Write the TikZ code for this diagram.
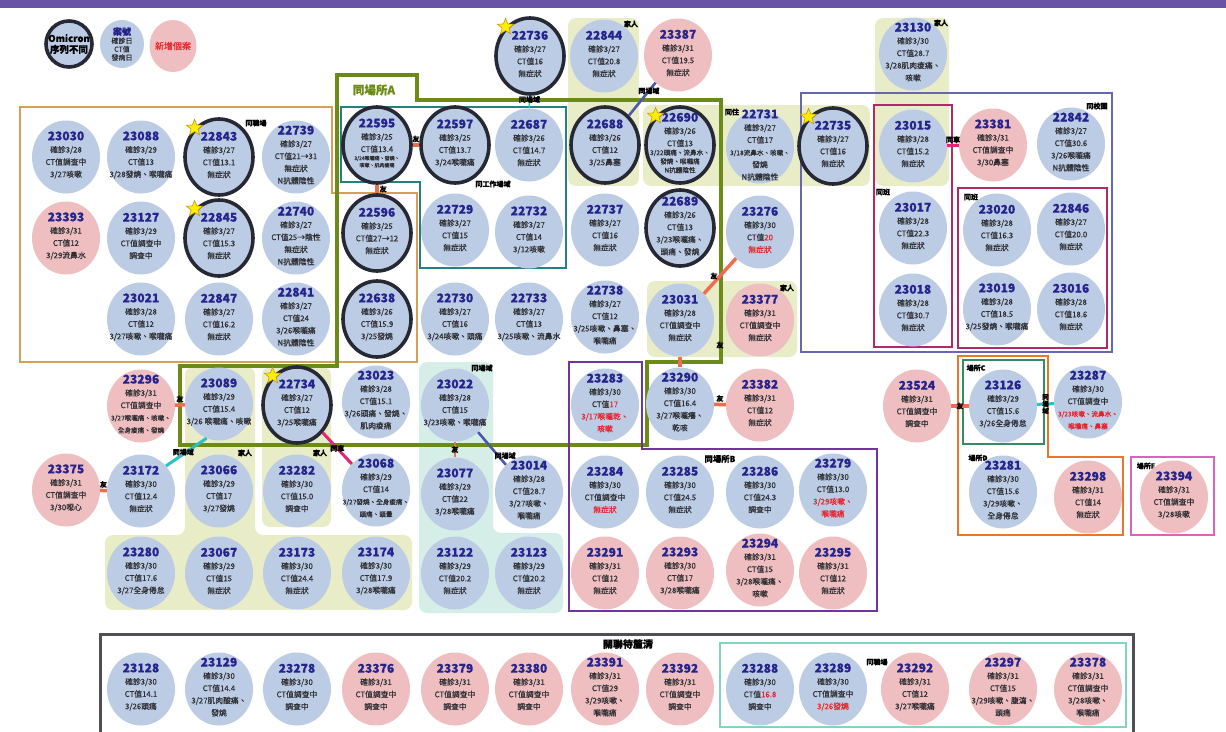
\documentclass[tikz,border=0pt]{standalone}
\usepackage{fontspec}
\setmainfont{Noto Sans CJK TC}[FakeBold=0.4]
\usepackage{xcolor}
\usetikzlibrary{shapes.geometric}

\definecolor{caseblue}{RGB}{187,204,228}
\definecolor{casepink}{RGB}{238,190,192}
\definecolor{casenavy}{RGB}{38,36,140}
\definecolor{casegray}{RGB}{45,45,50}
\definecolor{casered}{RGB}{232,32,40}
\definecolor{ringgray}{RGB}{38,40,52}
\definecolor{famyellow}{RGB}{232,237,200}
\definecolor{sitemint}{RGB}{214,238,232}
\definecolor{boxtan}{RGB}{214,160,88}
\definecolor{boxgreen}{RGB}{108,138,22}
\definecolor{boxteal}{RGB}{38,128,128}
\definecolor{boxpurple}{RGB}{112,52,158}
\definecolor{boxslate}{RGB}{104,102,176}
\definecolor{boxcrimson}{RGB}{176,42,104}
\definecolor{boxorange}{RGB}{232,118,44}
\definecolor{boxgreenC}{RGB}{52,140,96}
\definecolor{boxpinkE}{RGB}{220,100,184}
\definecolor{boxgray}{RGB}{80,80,84}
\definecolor{boxmint}{RGB}{128,212,192}
\definecolor{linkorange}{RGB}{240,108,78}
\definecolor{linkteal}{RGB}{40,192,196}
\definecolor{linkslate}{RGB}{76,88,172}
\definecolor{linkmagenta}{RGB}{222,40,118}
\definecolor{bandpurple}{RGB}{106,82,166}
\definecolor{staryellow}{RGB}{255,238,0}
\definecolor{stargold}{RGB}{196,150,20}

\newcommand{\casenum}{\fontsize{12}{13}\selectfont\bfseries\color{casenavy}}
\newcommand{\redtxt}[1]{\textcolor{casered}{#1}}
\newcommand{\smtxt}[1]{{\fontsize{6.6}{7}\selectfont #1}}
\newcommand{\tinytxt}[1]{{\fontsize{5}{6}\selectfont #1}}
% #1 style, #2 name, #3 position, #4 case number, #5 lines
\newcommand{\casenode}[5]{%
  \node[#1] (#2) at (#3) {};
  \node[casetext] (#2t) at (#2) {{\casenum #4}\\#5};
}

\begin{document}
\begin{tikzpicture}[x=1pt, y=-1pt,
  bluecase/.style={ellipse, fill=caseblue, minimum width=68pt, minimum height=73pt, inner sep=0pt},
  pinkcase/.style={bluecase, fill=casepink},
  ringcase/.style={bluecase, draw=ringgray, line width=3.6pt, minimum height=76pt},
  casetext/.style={align=center, font=\fontsize{7.8}{12.3}\selectfont, text=casegray, inner sep=0pt, yshift=2pt},
  starmark/.style={star, star points=5, star point ratio=2.3, fill=staryellow, draw=stargold, line width=0.6pt, minimum size=17pt, inner sep=0pt},
  rel/.style={font=\fontsize{7}{8}\selectfont\bfseries, text=black, inner sep=1pt},
  friend/.style={draw=linkorange, line width=3.5pt},
  sitelink/.style={draw=linkteal, line width=3pt},
  slatelink/.style={draw=linkslate, line width=2.6pt},
  carlink/.style={draw=linkmagenta, line width=3pt}]
  \useasboundingbox (0,0) rectangle (1226,731);

  % Title band
  \fill[bandpurple] (0,0) rectangle (1226,8);

  % Background groups
  \fill[famyellow, rounded corners=8pt] (568,18) rectangle (639,186);
  \fill[famyellow, rounded corners=8pt] (643,105) rectangle (870,186);
  \fill[famyellow, rounded corners=8pt] (875,18) rectangle (949,186);
  \fill[famyellow, rounded corners=8pt] (647,281) rectangle (797,357);
  \fill[famyellow, rounded corners=8pt] (185,367) -- (255,367) -- (255,535) -- (412,535)
        -- (412,610) -- (105,610) -- (105,535) -- (185,535) -- cycle;
  \fill[famyellow, rounded corners=8pt] (262,367) rectangle (331,527);
  \fill[sitemint, rounded corners=8pt] (419,362) -- (493,362) -- (493,533) -- (563,533)
        -- (563,613) -- (419,613) -- cycle;

  % Group boxes
  \draw[boxtan, line width=2.2pt] (20,107) -- (332,107) -- (332,193) -- (417,193) -- (417,362) -- (20,362) -- cycle;
  \draw[boxgreen, line width=4pt] (337,75) -- (417,75) -- (417,100) -- (721,100) -- (721,362) -- (647,362)
        -- (647,445) -- (180,445) -- (180,366) -- (337,366) -- cycle;
  \draw[boxteal, line width=1.6pt] (341,107) -- (566,107) -- (566,268) -- (420,268) -- (420,182) -- (341,182) -- cycle;
  \draw[boxpurple, line width=2.2pt] (569,362) -- (642,362) -- (642,449) -- (877,449) -- (877,611) -- (569,611) -- cycle;
  \draw[boxslate, line width=1.6pt] (801,93) rectangle (1112,352);
  \draw[boxcrimson, line width=2pt] (874,105) rectangle (952,347);
  \draw[boxcrimson, line width=2pt] (958,188) rectangle (1107,348);
  \draw[boxorange, line width=2pt] (958,356) -- (1048,356) -- (1048,457) -- (1123,457) -- (1123,535) -- (958,535) -- cycle;
  \draw[boxgreenC, line width=1.6pt] (963,360) rectangle (1044,444);
  \draw[boxpinkE, line width=2pt] (1131,457) rectangle (1214,535);
  \draw[boxgray, line width=3pt] (100,634) rectangle (1133,745);
  \draw[boxmint, line width=1.6pt] (720,643) rectangle (1126,727);

  % Legend
  \node[ringcase, minimum width=46pt, minimum height=46pt] (legring) at (69,44) {};
  \node[align=center, font=\fontsize{9.5}{11}\selectfont\bfseries, text=black, inner sep=0pt] (legringt) at (legring) {Omicron\\序列不同};
  \node[bluecase, minimum width=44pt, minimum height=48pt] (legblue) at (122,44) {};
  \node[align=center, font=\fontsize{7}{8.4}\selectfont, text=casegray, inner sep=0pt] (legbluet) at (legblue)
    {{\fontsize{9}{10}\selectfont\bfseries\color{casenavy}案號}\\確診日\\CT值\\發病日};
  \node[pinkcase, minimum width=47pt, minimum height=52pt] (legpink) at (173,46) {};
  \node[font=\fontsize{9}{10}\selectfont, text=casered, inner sep=0pt] (legpinkt) at (legpink) {新增個案};

  % Group labels
  \node[font=\fontsize{11.5}{12}\selectfont\bfseries, text=boxgreen] (lblA) at (374,90) {同場所A};
  \node[rel] (lblwork) at (493,184) {同工作場域};
  \node[rel] (lblcol) at (256,123) {同職場};
  \node[rel] (lblfam1) at (631,24) {家人};
  \node[rel] (lblfam2) at (941,23) {家人};
  \node[rel] (lblfam3) at (787,288) {家人};
  \node[rel] (lblfam4) at (245,453) {家人};
  \node[rel] (lblfam5) at (320,453) {家人};
  \node[rel] (lbllive) at (732,112) {同住};
  \node[rel] (lblsite) at (482,368) {同場域};
  \node[rel] (lblschool) at (1097,106) {同校園};
  \node[rel] (lblclass1) at (883,192) {同班};
  \node[rel] (lblclass2) at (971,197) {同班};
  \node[rel] (lblC) at (976,368) {場所C};
  \node[rel] (lblD) at (978,458) {場所D};
  \node[rel] (lblE) at (1146,466) {場所E};
  \node[font=\fontsize{8.3}{9}\selectfont\bfseries, text=black] (lblB) at (720,459) {同場所B};
  \node[font=\fontsize{10}{11}\selectfont\bfseries, text=black] (lblopen) at (628,644) {關聯待釐清};
  \node[rel] (lblcol2) at (877,662) {同職場};
  \node[rel] (lblfr) at (720,345) {友};

  % Left box cases
  \casenode{bluecase}{c23030}{66,157}{23030}{確診3/28\\CT值調查中\\3/27咳嗽}
  \casenode{bluecase}{c23088}{141,157}{23088}{確診3/29\\CT值13\\3/28發燒、喉嚨痛}
  \casenode{ringcase}{c22843}{219,157}{22843}{確診3/27\\CT值13.1\\無症狀}
  \casenode{bluecase}{c22739}{296,157}{22739}{確診3/27\\CT值21→31\\無症狀\\N抗體陰性}
  \casenode{pinkcase}{c23393}{66,238}{23393}{確診3/31\\CT值12\\3/29流鼻水}
  \casenode{bluecase}{c23127}{141,238}{23127}{確診3/29\\CT值調查中\\調查中}
  \casenode{ringcase}{c22845}{219,238}{22845}{確診3/27\\CT值15.3\\無症狀}
  \casenode{bluecase}{c22740}{296,238}{22740}{確診3/27\\CT值25→陰性\\無症狀\\N抗體陰性}
  \casenode{bluecase}{c23021}{141,319}{23021}{確診3/28\\CT值12\\3/27咳嗽、喉嚨痛}
  \casenode{bluecase}{c22847}{219,319}{22847}{確診3/27\\CT值16.2\\無症狀}
  \casenode{bluecase}{c22841}{296,319}{22841}{確診3/27\\CT值24\\3/26喉嚨痛\\N抗體陰性}

  % Top row
  \casenode{ringcase}{c22736}{530,56}{22736}{確診3/27\\CT值16\\無症狀}
  \casenode{bluecase}{c22844}{604,56}{22844}{確診3/27\\CT值20.8\\無症狀}
  \casenode{pinkcase}{c23387}{678,55}{23387}{確診3/31\\CT值19.5\\無症狀}
  \casenode{bluecase}{c23130}{913,54}{23130}{確診3/30\\CT值28.7\\3/28肌肉痠痛、\\咳嗽}

  % Place A
  \casenode{ringcase}{c22595}{377,145}{22595}{確診3/25\\CT值13.4\\[-4.3pt]\tinytxt{3/24喉嚨痛、發燒、}\\[-5.3pt]\tinytxt{咳嗽、肌肉痠痛}}
  \casenode{ringcase}{c22597}{455,145}{22597}{確診3/25\\CT值13.7\\3/24喉嚨痛}
  \casenode{bluecase}{c22687}{529,145}{22687}{確診3/26\\CT值14.7\\無症狀}
  \casenode{ringcase}{c22688}{605,145}{22688}{確診3/26\\CT值12\\3/25鼻塞}
  \casenode{ringcase}{c22690}{680,145}{22690}{確診3/26\\CT值13\\[-3.5pt]\smtxt{3/22頭痛、流鼻水、}\\[-3.5pt]\smtxt{發燒、喉嚨痛}\\[-3.5pt]\smtxt{N抗體陰性}}
  \casenode{bluecase}{c22731}{760,147}{22731}{確診3/27\\CT值17\\\smtxt{3/18流鼻水、咳嗽、}\\發燒\\N抗體陰性}
  \casenode{ringcase}{c22735}{833,146}{22735}{確診3/27\\CT值16\\無症狀}
  \casenode{ringcase}{c22596}{377,233}{22596}{確診3/25\\CT值27→12\\無症狀}
  \casenode{bluecase}{c22729}{455,230}{22729}{確診3/27\\CT值15\\無症狀}
  \casenode{bluecase}{c22732}{529,232}{22732}{確診3/27\\CT值14\\3/12咳嗽}
  \casenode{bluecase}{c22737}{605,230}{22737}{確診3/27\\CT值16\\無症狀}
  \casenode{ringcase}{c22689}{680,228}{22689}{確診3/26\\CT值13\\3/23喉嚨痛、\\頭痛、發燒}
  \casenode{bluecase}{c23276}{760,232}{23276}{確診3/30\\CT值\redtxt{20}\\\redtxt{無症狀}}
  \casenode{ringcase}{c22638}{377,319}{22638}{確診3/26\\CT值15.9\\3/25發燒}
  \casenode{bluecase}{c22730}{455,319}{22730}{確診3/27\\CT值16\\3/24咳嗽、頭痛}
  \casenode{bluecase}{c22733}{529,319}{22733}{確診3/27\\CT值13\\3/25咳嗽、流鼻水}
  \casenode{bluecase}{c22738}{605,317}{22738}{確診3/27\\CT值12\\3/25咳嗽、鼻塞、\\喉嚨痛}
  \casenode{bluecase}{c23031}{680,320}{23031}{確診3/28\\CT值調查中\\無症狀}
  \casenode{pinkcase}{c23377}{760,320}{23377}{確診3/31\\CT值調查中\\無症狀}

  % School
  \casenode{bluecase}{c23015}{913,146}{23015}{確診3/28\\CT值15.2\\無症狀}
  \casenode{pinkcase}{c23381}{993,145}{23381}{確診3/31\\CT值調查中\\3/30鼻塞}
  \casenode{bluecase}{c22842}{1071,144}{22842}{確診3/27\\CT值30.6\\3/26喉嚨痛\\N抗體陰性}
  \casenode{bluecase}{c23017}{913,228}{23017}{確診3/28\\CT值22.3\\無症狀}
  \casenode{bluecase}{c23020}{997,230}{23020}{確診3/28\\CT值16.3\\無症狀}
  \casenode{bluecase}{c22846}{1071,229}{22846}{確診3/27\\CT值20.0\\無症狀}
  \casenode{bluecase}{c23018}{913,310}{23018}{確診3/28\\CT值30.7\\無症狀}
  \casenode{bluecase}{c23019}{997,309}{23019}{確診3/28\\CT值18.5\\3/25發燒、喉嚨痛}
  \casenode{bluecase}{c23016}{1071,309}{23016}{確診3/28\\CT值18.6\\無症狀}

  % Middle rows
  \casenode{pinkcase}{c23296}{141,406}{23296}{確診3/31\\CT值調查中\\\smtxt{3/27喉嚨痛、咳嗽、}\\\smtxt{全身痠痛、發燒}}
  \casenode{bluecase}{c23089}{219,404}{23089}{確診3/29\\CT值15.4\\3/26 喉嚨痛、咳嗽}
  \casenode{ringcase}{c22734}{297,405}{22734}{確診3/27\\CT值12\\3/25喉嚨痛}
  \casenode{bluecase}{c23023}{376,402}{23023}{確診3/28\\CT值15.1\\3/26頭痛、發燒、\\肌肉痠痛}
  \casenode{bluecase}{c23022}{455,405}{23022}{確診3/28\\CT值15\\3/23咳嗽、喉嚨痛}
  \casenode{bluecase}{c23283}{605,405}{23283}{確診3/30\\CT值\redtxt{17}\\\redtxt{3/17喉嚨乾、}\\\redtxt{咳嗽}}
  \casenode{bluecase}{c23290}{680,404}{23290}{確診3/30\\CT值16.4\\3/27喉嚨癢、\\乾咳}
  \casenode{pinkcase}{c23382}{760,405}{23382}{確診3/31\\CT值12\\無症狀}
  \casenode{pinkcase}{c23524}{917,406}{23524}{確診3/31\\CT值調查中\\調查中}
  \casenode{bluecase}{c23126}{1003,406}{23126}{確診3/29\\CT值15.6\\3/26全身倦怠}
  \casenode{bluecase}{c23287}{1088,402}{23287}{確診3/30\\CT值調查中\\\redtxt{\smtxt{3/23咳嗽、流鼻水、}}\\\redtxt{\smtxt{喉嚨痛、鼻塞}}}
  \casenode{pinkcase}{c23375}{66,490}{23375}{確診3/31\\CT值調查中\\3/30噁心}
  \casenode{bluecase}{c23172}{141,491}{23172}{確診3/30\\CT值12.4\\無症狀}
  \casenode{bluecase}{c23066}{219,491}{23066}{確診3/29\\CT值17\\3/27發燒}
  \casenode{bluecase}{c23282}{297,491}{23282}{確診3/30\\CT值15.0\\調查中}
  \casenode{bluecase}{c23068}{376,490}{23068}{確診3/29\\CT值14\\\smtxt{3/27發燒、全身痠痛、}\\\smtxt{頭痛、頭暈}}
  \casenode{bluecase}{c23077}{455,494}{23077}{確診3/29\\CT值22\\3/28喉嚨痛}
  \casenode{bluecase}{c23014}{529,492}{23014}{確診3/28\\CT值28.7\\3/27咳嗽、\\喉嚨痛}
  \casenode{bluecase}{c23284}{605,492}{23284}{確診3/30\\CT值調查中\\\redtxt{無症狀}}
  \casenode{bluecase}{c23285}{680,492}{23285}{確診3/30\\CT值24.5\\無症狀}
  \casenode{bluecase}{c23286}{760,492}{23286}{確診3/30\\CT值24.3\\調查中}
  \casenode{bluecase}{c23279}{833,490}{23279}{確診3/30\\CT值13.0\\\redtxt{3/29咳嗽、}\\\redtxt{喉嚨痛}}
  \casenode{bluecase}{c23281}{1003,492}{23281}{確診3/30\\CT值15.6\\3/29咳嗽、\\全身倦怠}
  \casenode{pinkcase}{c23298}{1088,497}{23298}{確診3/31\\CT值14\\無症狀}
  \casenode{pinkcase}{c23394}{1174,497}{23394}{確診3/31\\CT值調查中\\3/28咳嗽}
  \casenode{bluecase}{c23280}{141,573}{23280}{確診3/30\\CT值17.6\\3/27全身倦怠}
  \casenode{bluecase}{c23067}{219,573}{23067}{確診3/29\\CT值15\\無症狀}
  \casenode{bluecase}{c23173}{297,573}{23173}{確診3/30\\CT值24.4\\無症狀}
  \casenode{bluecase}{c23174}{376,573}{23174}{確診3/30\\CT值17.9\\3/28喉嚨痛}
  \casenode{bluecase}{c23122}{455,573}{23122}{確診3/29\\CT值20.2\\無症狀}
  \casenode{bluecase}{c23123}{529,573}{23123}{確診3/29\\CT值20.2\\無症狀}
  \casenode{pinkcase}{c23291}{605,573}{23291}{確診3/31\\CT值12\\無症狀}
  \casenode{pinkcase}{c23293}{680,573}{23293}{確診3/30\\CT值17\\3/28喉嚨痛}
  \casenode{pinkcase}{c23294}{760,570}{23294}{確診3/31\\CT值15\\3/28喉嚨痛、\\咳嗽}
  \casenode{pinkcase}{c23295}{833,573}{23295}{確診3/31\\CT值12\\無症狀}

  % Unclear links
  \casenode{bluecase}{c23128}{141,689}{23128}{確診3/30\\CT值14.1\\3/26頭痛}
  \casenode{bluecase}{c23129}{219,689}{23129}{確診3/30\\CT值14.4\\3/27肌肉酸痛、\\發燒}
  \casenode{bluecase}{c23278}{297,689}{23278}{確診3/30\\CT值調查中\\調查中}
  \casenode{pinkcase}{c23376}{376,689}{23376}{確診3/31\\CT值調查中\\調查中}
  \casenode{pinkcase}{c23379}{455,689}{23379}{確診3/31\\CT值調查中\\調查中}
  \casenode{pinkcase}{c23380}{529,689}{23380}{確診3/31\\CT值調查中\\調查中}
  \casenode{pinkcase}{c23391}{605,689}{23391}{確診3/31\\CT值29\\3/29咳嗽、\\喉嚨痛}
  \casenode{pinkcase}{c23392}{680,689}{23392}{確診3/31\\CT值調查中\\調查中}
  \casenode{bluecase}{c23288}{760,689}{23288}{確診3/30\\CT值\redtxt{16.8}\\調查中}
  \casenode{bluecase}{c23289}{833,689}{23289}{確診3/30\\CT值調查中\\\redtxt{3/26發燒}}
  \casenode{pinkcase}{c23292}{915,689}{23292}{確診3/31\\CT值12\\3/27喉嚨痛}
  \casenode{pinkcase}{c23297}{1003,689}{23297}{確診3/31\\CT值15\\3/29咳嗽、腹瀉、\\頭痛}
  \casenode{pinkcase}{c23378}{1088,689}{23378}{確診3/31\\CT值調查中\\3/28咳嗽、\\喉嚨痛}

  % Stars
  \node[starmark] (s22843) at (c22843.130) {};
  \node[starmark] (s22845) at (c22845.130) {};
  \node[starmark] (s22736) at (c22736.130) {};
  \node[starmark] (s22690) at (c22690.130) {};
  \node[starmark] (s22735) at (c22735.130) {};
  \node[starmark] (s22734) at (c22734.130) {};

  % Links
  \draw[friend] (c22595) -- node[rel, above] {友} (c22597);
  \draw[friend] (c22595) -- node[rel, right] {友} (c22596);
  \draw[slatelink] (c23387) -- node[rel, pos=0.25] {同場域} (c22688);
  \draw[sitelink, line width=1.5pt] (c22736) -- node[rel, pos=0.3] {同場域} (c22687);
  \draw[friend] (c23296) -- node[rel, above] {友} (c23089);
  \draw[sitelink] (c23089.250) -- node[rel, pos=0.5, xshift=-3pt] {同場域} (c23172.45);
  \draw[friend] (c23375) -- node[rel, above] {友} (c23172);
  \draw[carlink] (c22734) -- node[rel, pos=0.5] {同車} (c23068);
  \draw[slatelink] (c23022) -- node[rel, pos=0.72, xshift=7pt] {同場域} (c23014);
  \draw[friend, line width=2pt] (c23022) -- node[rel, pos=0.5] {友} (c23077);
  \draw[friend] (c23276) -- node[rel, pos=0.5, xshift=-6pt] {友} (c23031);
  \draw[friend] (c23031) -- (c23290);
  \draw[friend] (c23290) -- node[rel, above] {友} (c23382);
  \draw[carlink] (c23015) -- node[rel, above] {同車} (c23381);
  \draw[friend] (c23524) -- node[rel] {友} (c23126);
  \draw[sitelink] (c23126) -- node[rel, align=center, font=\fontsize{6.5}{7}\selectfont\bfseries] {同\\場\\域} (c23287);
\end{tikzpicture}
\end{document}
